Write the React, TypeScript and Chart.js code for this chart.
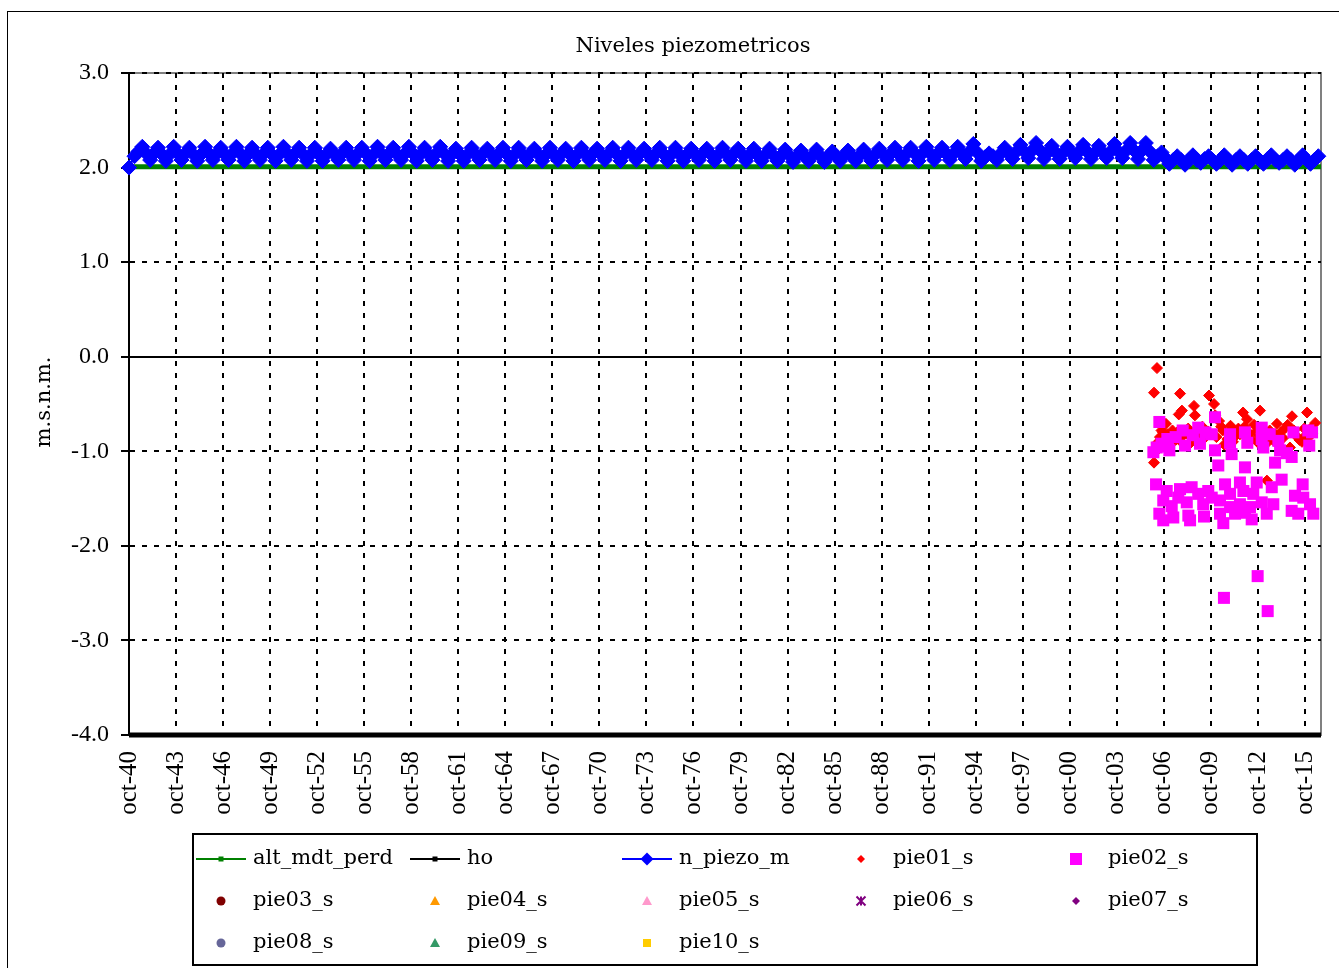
import { useEffect, useRef } from 'react';
import { Chart, registerables } from 'chart.js';

Chart.register(...registerables);

// ---------- data ----------
const X_TICK_VALUES = [
  1940.75, 1943.75, 1946.75, 1949.75, 1952.75, 1955.75, 1958.75, 1961.75, 1964.75,
  1967.75, 1970.75, 1973.75, 1976.75, 1979.75, 1982.75, 1985.75, 1988.75, 1991.75,
  1994.75, 1997.75, 2000.75, 2003.75, 2006.75, 2009.75, 2012.75, 2015.75,
];
const X_TICK_LABELS = [
  'oct-40', 'oct-43', 'oct-46', 'oct-49', 'oct-52', 'oct-55', 'oct-58', 'oct-61', 'oct-64',
  'oct-67', 'oct-70', 'oct-73', 'oct-76', 'oct-79', 'oct-82', 'oct-85', 'oct-88', 'oct-91',
  'oct-94', 'oct-97', 'oct-00', 'oct-03', 'oct-06', 'oct-09', 'oct-12', 'oct-15',
];
const X_MIN = 1940.75;
const X_MAX = 2016.77;

const ALT_MDT_PERD: [number, number][] = [[1940.75, 2.01], [2016.77, 2.01]];
const HO: [number, number][] = [[1940.75, -4.0], [2016.77, -4.0]];

const PIEZO_START: [number, number] = [1940.75, 2.0];
const PIEZO_YEARS = [
  1941, 1942, 1943, 1944, 1945, 1946, 1947, 1948, 1949, 1950,
  1951, 1952, 1953, 1954, 1955, 1956, 1957, 1958, 1959, 1960,
  1961, 1962, 1963, 1964, 1965, 1966, 1967, 1968, 1969, 1970,
  1971, 1972, 1973, 1974, 1975, 1976, 1977, 1978, 1979, 1980,
  1981, 1982, 1983, 1984, 1985, 1986, 1987, 1988, 1989, 1990,
  1991, 1992, 1993, 1994, 1995, 1996, 1997, 1998, 1999, 2000,
  2001, 2002, 2003, 2004, 2005, 2006, 2007, 2008, 2009, 2010,
  2011, 2012, 2013, 2014, 2015, 2016,
];
// winter reading
const PIEZO_LOW = [
  2.12, 2.08, 2.07, 2.08, 2.07, 2.08, 2.08, 2.07, 2.08, 2.07,
  2.08, 2.07, 2.07, 2.08, 2.08, 2.07, 2.08, 2.08, 2.07, 2.08,
  2.07, 2.07, 2.08, 2.08, 2.07, 2.08, 2.07, 2.08, 2.07, 2.08,
  2.08, 2.07, 2.08, 2.08, 2.07, 2.07, 2.08, 2.07, 2.08, 2.07,
  2.07, 2.07, 2.06, 2.07, 2.06, 2.07, 2.07, 2.07, 2.08, 2.08,
  2.07, 2.08, 2.08, 2.09, 2.07, 2.08, 2.09, 2.10, 2.09, 2.09,
  2.10, 2.09, 2.10, 2.10, 2.09, 2.08, 2.04, 2.03, 2.05, 2.04,
  2.03, 2.04, 2.04, 2.05, 2.03, 2.04,
];
// spring reading
const PIEZO_SPRING = [
  2.17, 2.15, 2.14, 2.15, 2.14, 2.15, 2.15, 2.14, 2.15, 2.14,
  2.15, 2.14, 2.14, 2.15, 2.15, 2.14, 2.15, 2.15, 2.14, 2.15,
  2.14, 2.14, 2.15, 2.15, 2.14, 2.15, 2.14, 2.15, 2.14, 2.15,
  2.15, 2.14, 2.15, 2.15, 2.14, 2.14, 2.15, 2.14, 2.15, 2.14,
  2.14, 2.13, 2.12, 2.13, 2.12, 2.13, 2.13, 2.14, 2.15, 2.15,
  2.15, 2.15, 2.15, 2.17, 2.11, 2.15, 2.17, 2.18, 2.16, 2.16,
  2.17, 2.16, 2.17, 2.18, 2.18, 2.12, 2.08, 2.08, 2.09, 2.08,
  2.08, 2.08, 2.09, 2.08, 2.08, 2.08,
];
// summer reading
const PIEZO_HIGH = [
  2.22, 2.21, 2.22, 2.21, 2.22, 2.21, 2.22, 2.21, 2.21, 2.22,
  2.21, 2.21, 2.20, 2.21, 2.21, 2.22, 2.21, 2.22, 2.21, 2.22,
  2.20, 2.21, 2.20, 2.21, 2.21, 2.20, 2.21, 2.20, 2.21, 2.20,
  2.21, 2.21, 2.20, 2.21, 2.21, 2.20, 2.20, 2.21, 2.20, 2.20,
  2.20, 2.19, 2.18, 2.19, 2.17, 2.18, 2.19, 2.20, 2.21, 2.21,
  2.22, 2.21, 2.22, 2.25, 2.15, 2.21, 2.24, 2.26, 2.23, 2.22,
  2.24, 2.23, 2.25, 2.26, 2.26, 2.16, 2.12, 2.13, 2.12, 2.13,
  2.12, 2.12, 2.13, 2.12, 2.13, 2.12,
];
// autumn reading (none yet for the last year)
const PIEZO_AUTUMN = [
  2.15, 2.14, 2.15, 2.14, 2.15, 2.14, 2.15, 2.14, 2.14, 2.15,
  2.14, 2.14, 2.14, 2.14, 2.15, 2.15, 2.14, 2.15, 2.14, 2.15,
  2.14, 2.14, 2.14, 2.14, 2.14, 2.14, 2.14, 2.14, 2.14, 2.14,
  2.14, 2.14, 2.14, 2.14, 2.14, 2.14, 2.14, 2.14, 2.14, 2.13,
  2.13, 2.13, 2.12, 2.12, 2.12, 2.12, 2.13, 2.14, 2.14, 2.15,
  2.15, 2.15, 2.15, 2.16, 2.12, 2.15, 2.17, 2.18, 2.16, 2.16,
  2.17, 2.16, 2.17, 2.18, 2.17, 2.10, 2.08, 2.08, 2.08, 2.08,
  2.08, 2.08, 2.08, 2.08, 2.08,
];

const PIE01_S: [number, number][] = [
  [2006.31, -0.12], [2006.12, -0.38], [2007.78, -0.39], [2009.63, -0.41], [2009.95, -0.5],
  [2008.67, -0.52], [2007.9, -0.57], [2007.7, -0.61], [2008.73, -0.62], [2006.88, -0.71],
  [2011.8, -0.59], [2012.88, -0.57], [2012.05, -0.66], [2014.92, -0.63], [2015.88, -0.59],
  [2010.02, -0.62], [2010.27, -0.68], [2013.96, -0.71], [2006.12, -1.12], [2016.2, -0.81],
  [2015.56, -0.9], [2014.79, -0.96], [2013.32, -1.31],
  [2006.5, -0.85], [2006.7, -0.8], [2007.0, -0.82], [2007.3, -0.78], [2007.5, -0.88],
  [2008.0, -0.83], [2008.3, -0.76], [2008.5, -0.86], [2009.0, -0.8], [2009.2, -0.74],
  [2009.4, -0.85], [2010.5, -0.78], [2010.8, -0.87], [2011.0, -0.73], [2011.3, -0.84],
  [2011.5, -0.76], [2012.2, -0.81], [2012.5, -0.72], [2013.0, -0.84], [2013.5, -0.78],
  [2013.7, -0.88], [2014.2, -0.8], [2014.5, -0.75], [2015.2, -0.84], [2015.7, -0.76],
  [2016.0, -0.85], [2016.4, -0.7], [2006.25, -1.0], [2006.9, -0.95], [2010.6, -0.93],
  [2012.7, -0.9],
  [2006.4, -0.9], [2006.6, -0.78], [2007.15, -0.86], [2007.6, -0.8], [2007.85, -0.9],
  [2008.15, -0.79], [2008.4, -0.92], [2008.85, -0.77], [2009.1, -0.9], [2009.55, -0.79],
  [2010.1, -0.85], [2010.4, -0.74], [2010.9, -0.8], [2011.15, -0.9], [2011.6, -0.82],
  [2011.9, -0.74], [2012.35, -0.88], [2012.6, -0.8], [2013.15, -0.77], [2013.4, -0.9],
  [2013.85, -0.82], [2014.35, -0.86], [2014.65, -0.72], [2015.05, -0.78], [2015.4, -0.88],
  [2015.8, -0.83], [2016.1, -0.76],
];

const PIE02_S: [number, number][] = [
  [2006.46, -0.69], [2010.01, -0.64], [2007.95, -0.78], [2008.94, -0.75], [2009.8, -0.82],
  [2010.97, -0.82], [2011.92, -0.8], [2012.99, -0.75], [2015.01, -0.8], [2015.96, -0.78],
  [2006.97, -0.87], [2006.29, -0.96], [2007.1, -0.99], [2008.1, -0.94], [2009.05, -0.92],
  [2010.01, -0.99], [2011.07, -1.03], [2012.07, -0.91], [2013.09, -0.96], [2014.05, -0.89],
  [2014.16, -0.99], [2014.9, -1.06], [2016.02, -0.94], [2013.84, -1.12], [2010.22, -1.15],
  [2011.92, -1.17], [2006.08, -1.01], [2010.97, -0.91], [2012.99, -0.87],
  [2006.6, -0.92], [2007.0, -0.95], [2007.5, -0.85], [2008.6, -0.83], [2009.4, -0.8],
  [2013.5, -0.82], [2014.6, -1.02], [2016.2, -0.8],
  [2006.25, -1.35], [2006.93, -1.42], [2007.78, -1.4], [2008.52, -1.38], [2009.58, -1.42],
  [2010.65, -1.35], [2011.6, -1.33], [2012.67, -1.33], [2013.63, -1.38], [2014.26, -1.3],
  [2015.6, -1.35], [2006.71, -1.52], [2007.67, -1.49], [2008.21, -1.54], [2008.94, -1.45],
  [2009.8, -1.49], [2010.33, -1.52], [2010.97, -1.45], [2011.82, -1.42], [2012.45, -1.45],
  [2012.99, -1.54], [2013.73, -1.56], [2015.11, -1.47], [2015.64, -1.49], [2016.07, -1.56],
  [2006.46, -1.66], [2006.71, -1.73], [2007.35, -1.7], [2008.31, -1.68], [2008.42, -1.73],
  [2009.31, -1.69], [2010.33, -1.66], [2010.54, -1.76], [2011.29, -1.66], [2011.92, -1.65],
  [2012.35, -1.72], [2013.31, -1.66], [2014.9, -1.63], [2015.32, -1.66], [2016.28, -1.66],
  [2011.6, -1.56], [2012.24, -1.59], [2010.97, -1.59], [2007.25, -1.58], [2009.26, -1.56],
  [2012.73, -2.32], [2010.58, -2.55], [2013.37, -2.69],
];

const SERIES_NAMES = [
  'alt_mdt_perd', 'ho', 'n_piezo_m', 'pie01_s', 'pie02_s',
  'pie03_s', 'pie04_s', 'pie05_s', 'pie06_s', 'pie07_s',
  'pie08_s', 'pie09_s', 'pie10_s',
];
const SERIES_COLORS = [
  '#008000', '#000000', '#0000FF', '#FF0000', '#FF00FF',
  '#800000', '#FF9900', '#FF99CC', '#800080', '#800080',
  '#666699', '#339966', '#FFCC00',
];
const LEGEND_SHAPES = [
  'square', 'square', 'diamond', 'diamond', 'square',
  'circle', 'triangle', 'triangle', 'star', 'diamond',
  'circle', 'triangle', 'square',
];
const LEGEND_SIZES = [5, 5, 13, 8, 12, 9, 10, 10, 9, 8, 9, 10, 8];

const TITLE = 'Niveles piezometricos';
const Y_TITLE = 'm.s.n.m.';

// ---------- helpers ----------
const toPts = (arr: [number, number][]) => arr.map(([x, y]) => ({ x, y }));

function piezoPoints() {
  const pts = [{ x: PIEZO_START[0], y: PIEZO_START[1] }];
  PIEZO_YEARS.forEach((yr, i) => {
    pts.push({ x: yr + 0.1, y: PIEZO_LOW[i] });
    pts.push({ x: yr + 0.35, y: PIEZO_SPRING[i] });
    pts.push({ x: yr + 0.6, y: PIEZO_HIGH[i] });
    if (PIEZO_AUTUMN[i] !== undefined) pts.push({ x: yr + 0.85, y: PIEZO_AUTUMN[i] });
  });
  return pts;
}

const TEXT_FONT = "'DejaVu Serif', serif";
const TICK_FONT = "'Liberation Serif', serif";

function drawShape(ctx: CanvasRenderingContext2D, shape: string, cx: number, cy: number, s: number, color: string) {
  ctx.save();
  ctx.fillStyle = color;
  ctx.strokeStyle = color;
  const h = s / 2;
  ctx.beginPath();
  if (shape === 'square') {
    ctx.fillRect(cx - h, cy - h, s, s);
  } else if (shape === 'diamond') {
    ctx.moveTo(cx, cy - h);
    ctx.lineTo(cx + h, cy);
    ctx.lineTo(cx, cy + h);
    ctx.lineTo(cx - h, cy);
    ctx.closePath();
    ctx.fill();
  } else if (shape === 'circle') {
    ctx.arc(cx, cy, h, 0, Math.PI * 2);
    ctx.fill();
  } else if (shape === 'triangle') {
    ctx.moveTo(cx, cy - h);
    ctx.lineTo(cx + h, cy + h * 0.8);
    ctx.lineTo(cx - h, cy + h * 0.8);
    ctx.closePath();
    ctx.fill();
  } else if (shape === 'star') {
    ctx.lineWidth = 2;
    ctx.moveTo(cx - h, cy - h);
    ctx.lineTo(cx + h, cy + h);
    ctx.moveTo(cx + h, cy - h);
    ctx.lineTo(cx - h, cy + h);
    ctx.moveTo(cx, cy - h);
    ctx.lineTo(cx, cy + h);
    ctx.stroke();
  }
  ctx.restore();
}

const framePlugin = {
  id: 'xlFrame',
  beforeDraw(chart: any) {
    const { ctx, chartArea: a } = chart;
    ctx.save();
    ctx.fillStyle = '#fff';
    ctx.fillRect(0, 0, chart.width, chart.height);
    ctx.strokeStyle = '#000';
    ctx.lineWidth = 1;
    ctx.strokeRect(7.5, 11.5, 1500, 1500);
    ctx.strokeStyle = '#808080';
    ctx.lineWidth = 2;
    ctx.strokeRect(a.left, a.top, a.right - a.left, a.bottom - a.top);
    ctx.restore();
  },
  afterDraw(chart: any) {
    const { ctx } = chart;
    ctx.save();
    ctx.fillStyle = '#000';
    ctx.font = `21px ${TEXT_FONT}`;
    ctx.textAlign = 'center';
    ctx.textBaseline = 'middle';
    ctx.fillText(TITLE, 693, 47);
    ctx.translate(45, 402);
    ctx.rotate(-Math.PI / 2);
    ctx.fillText(Y_TITLE, 0, 0);
    ctx.restore();

    // legend
    ctx.save();
    ctx.strokeStyle = '#000';
    ctx.lineWidth = 2;
    ctx.strokeRect(193, 834, 1064, 131);
    const cols = [221, 435, 647, 861, 1076];
    const rows = [859, 901, 943];
    ctx.font = `21px ${TEXT_FONT}`;
    ctx.textBaseline = 'middle';
    ctx.textAlign = 'left';
    chart.data.datasets.forEach((ds: any, i: number) => {
      const cx = cols[i % 5];
      const cy = rows[Math.floor(i / 5)];
      if (ds.showLine) {
        ctx.save();
        ctx.strokeStyle = ds.borderColor;
        ctx.lineWidth = 2;
        ctx.beginPath();
        ctx.moveTo(cx - 25, cy);
        ctx.lineTo(cx + 25, cy);
        ctx.stroke();
        ctx.restore();
      }
      drawShape(ctx, ds.legendShape, cx, cy, ds.legendSize, ds.legendColor);
      ctx.fillStyle = '#000';
      ctx.fillText(ds.label, cx + 32, cy);
    });
    ctx.restore();
  },
};

export default function App() {
  const ref = useRef<HTMLCanvasElement>(null);

  useEffect(() => {
    if (!ref.current) return;
    const datasets: any[] = SERIES_NAMES.map((name, i) => ({
      label: name,
      data: [],
      borderColor: SERIES_COLORS[i],
      backgroundColor: SERIES_COLORS[i],
      legendShape: LEGEND_SHAPES[i],
      legendSize: LEGEND_SIZES[i],
      legendColor: SERIES_COLORS[i],
      showLine: false,
      pointRadius: 4,
      clip: false,
      order: 100 - i,
    }));
    Object.assign(datasets[0], { data: toPts(ALT_MDT_PERD), showLine: true, borderWidth: 5, pointRadius: 0 });
    Object.assign(datasets[1], { data: toPts(HO), showLine: true, borderWidth: 5, pointRadius: 0 });
    Object.assign(datasets[2], {
      data: piezoPoints(),
      showLine: true,
      borderWidth: 2,
      pointStyle: 'rectRot',
      pointRadius: 7.5,
      pointBorderWidth: 1,
      pointBackgroundColor: '#0000FF',
      pointBorderColor: '#0000FF',
    });
    Object.assign(datasets[3], {
      data: toPts(PIE01_S),
      pointStyle: 'rectRot',
      pointRadius: 5.5,
      pointBorderWidth: 1,
      pointBackgroundColor: '#FF0000',
      pointBorderColor: '#FF0000',
    });
    Object.assign(datasets[4], {
      data: toPts(PIE02_S),
      pointStyle: 'rect',
      pointRadius: 8.5,
      pointBorderWidth: 0,
      pointBackgroundColor: '#FF00FF',
      pointBorderColor: '#FF00FF',
    });

    const chart = new Chart(ref.current, {
      type: 'scatter',
      data: { datasets },
      plugins: [framePlugin],
      options: {
        animation: false,
        responsive: false,
        events: [],
        layout: { padding: { left: 0, top: 73, right: 18, bottom: 0 } },
        plugins: {
          legend: { display: false },
          title: { display: false },
          tooltip: { enabled: false },
        },
        scales: {
          x: {
            type: 'linear',
            min: X_MIN,
            max: X_MAX,
            afterBuildTicks: (scale: any) => {
              scale.ticks = X_TICK_VALUES.map((v) => ({ value: v }));
            },
            afterFit: (scale: any) => {
              scale.height = 233;
              scale.paddingLeft = 0;
              scale.paddingRight = 0;
            },
            ticks: {
              autoSkip: false,
              minRotation: 90,
              maxRotation: 90,
              padding: 16,
              color: '#000',
              font: { family: TICK_FONT, size: 25 },
              callback: (_v: any, i: number) => X_TICK_LABELS[i],
            },
            grid: {
              color: '#000',
              lineWidth: 2,
              drawTicks: false,
            },
            border: { display: false, dash: [5, 7] },
          },
          y: {
            type: 'linear',
            min: -4,
            max: 3,
            afterFit: (scale: any) => {
              scale.width = 129;
              scale.paddingTop = 0;
              scale.paddingBottom = 0;
            },
            ticks: {
              stepSize: 1,
              padding: 12,
              color: '#000',
              font: { family: TICK_FONT, size: 24 },
              callback: (v: any) => Number(v).toFixed(1),
            },
            grid: {
              color: '#000',
              lineWidth: 2,
              drawTicks: true,
              tickLength: 8,
              tickColor: '#000',
              tickWidth: 2,
              tickBorderDash: [],
            },
            border: {
              display: true,
              color: '#000',
              width: 2,
              dash: (ctx: any) => (ctx.tick && ctx.tick.value === 0 ? [] : [5, 7]),
            },
          },
        },
      } as any,
    });
    return () => chart.destroy();
  }, []);

  return (
    <div style={{ position: 'absolute', left: 0, top: 0, width: 1339, height: 968, background: '#fff' }}>
      <canvas ref={ref} width={1339} height={968} style={{ display: 'block' }} />
    </div>
  );
}
